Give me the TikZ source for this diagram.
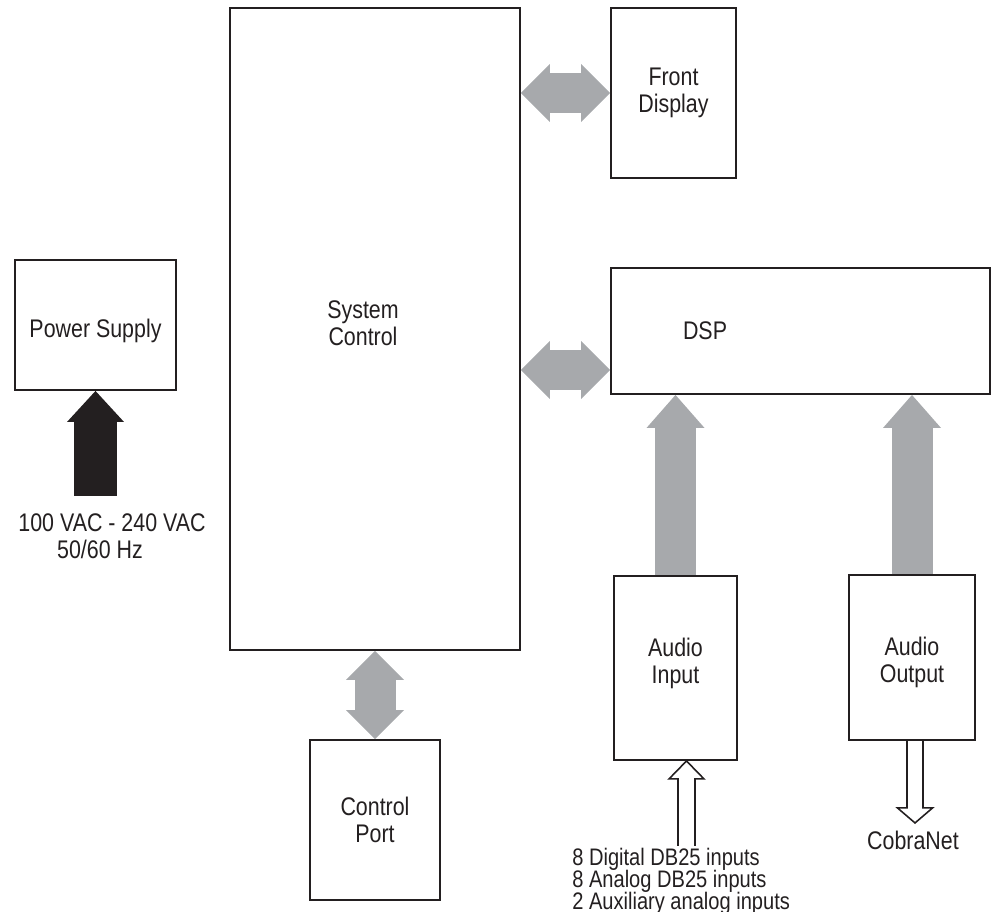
\documentclass[tikz,border=0pt]{standalone}
\usepackage{fontspec}
\setmainfont{Liberation Sans}[FakeStretch=0.84]
\usetikzlibrary{calc}
\usetikzlibrary{arrows.meta}
\definecolor{arrowgray}{HTML}{A7A9AC}
\definecolor{ink}{HTML}{231F20}
\setlength{\lineskiplimit}{-20pt}

\begin{document}
\begin{tikzpicture}[x=0.02cm, y=-0.02cm,
		every node/.style={font=\fontsize{14.5}{15.3}\selectfont, text=ink, align=center},
		box/.style={draw=ink, line width=1.1pt, inner sep=0pt},
		listtext/.style={font=\fontsize{13.6}{12.6}\selectfont, align=left, inner sep=0pt},
		grayarrow/.style={draw=arrowgray, line width=0.82cm,
			{Triangle[length=0.58cm, width=1.16cm, line width=0pt]}-{Triangle[length=0.58cm, width=1.16cm, line width=0pt]}},
		uparrow/.style={draw=arrowgray, line width=0.82cm,
			-{Triangle[length=0.66cm, width=1.16cm, line width=0pt]}},
		mainsarrow/.style={draw=ink, line width=0.86cm,
			-{Triangle[length=0.62cm, width=1.14cm, line width=0pt]}},
		hollow/.style={draw=ink, line width=0.9pt, line join=miter}]
				\useasboundingbox (0,0) rectangle (1000,912);
				
				% blocks
				\node[box, minimum width=5.8cm, minimum height=12.84cm] (sc) at (375,329) {};
				\node (sctext) at ($(sc.center)+(-12,-6)$) {System\\Control};
				\node[box, minimum width=2.5cm, minimum height=3.4cm] (fd) at (673.5,93) {Front\\Display};
				\node[box, minimum width=3.22cm, minimum height=2.6cm] (ps) at (95.5,325) {};
				\node (pstext) at ($(ps.center)+(0,6)$) {Power Supply};
				\node[box, minimum width=7.58cm, minimum height=2.52cm, text width=4.7cm, align=left] (dsp) at (800.5,331) {DSP};
				\node[box, minimum width=2.46cm, minimum height=3.68cm] (ai) at (675.5,668) {};
				\node (aitext) at ($(ai.center)+(0,-5)$) {Audio\\Input};
				\node[box, minimum width=2.52cm, minimum height=3.3cm] (ao) at (912,657.5) {};
				\node (aotext) at ($(ao.center)+(0,5)$) {Audio\\Output};
				\node[box, minimum width=2.6cm, minimum height=3.2cm] (cp) at (375,820) {Control\\Port};
				
				% gray links
				\coordinate (dspin) at ($(dsp.west)+(0,39)$);
				\draw[grayarrow] (sc.east |- fd.west) -- (fd.west);
				\draw[grayarrow] (sc.east |- dspin) -- (dspin);
				\draw[grayarrow] (sc.south -| cp.north) -- (cp.north);
				\draw[uparrow] (ai.north) -- (ai.north |- dsp.south);
				\draw[uparrow] (ao.north) -- (ao.north |- dsp.south);
				
				% mains
				\coordinate (acin) at ($(ps.south)+(0,105)$);
				\draw[mainsarrow] (acin) -- (ps.south);
				\node (mains) at (112,536) {100 VAC - 240 VAC\\50/60 Hz\hspace*{0.48cm}};
				
				% inputs and output
				\coordinate (aitip) at ($(ai.south)+(11,0)$);
				\coordinate (dbin) at ($(aitip)+(0,85)$);
				\draw[hollow] ($(dbin)+(-8.5,0)$) -- ++(0,-67) -- ++(-9,0) -- (aitip)
					-- ++(17.5,18) -- ++(-9,0) -- ++(0,67);
				\node[listtext, anchor=west] (inputs) at (572,881) {8 Digital DB25 inputs\\8 Analog DB25 inputs\\2 Auxiliary analog inputs};
				
				\coordinate (aotip) at ($(ao.south)+(3,82)$);
				\draw[hollow] ($(ao.south)+(-5,0)$) -- ++(0,67) -- ++(-9.5,0) -- (aotip)
					-- ++(17.5,-15) -- ++(-9.5,0) -- ++(0,-67);
				\node (cobra) at (913,840) {CobraNet};
			\end{tikzpicture}
\end{document}
